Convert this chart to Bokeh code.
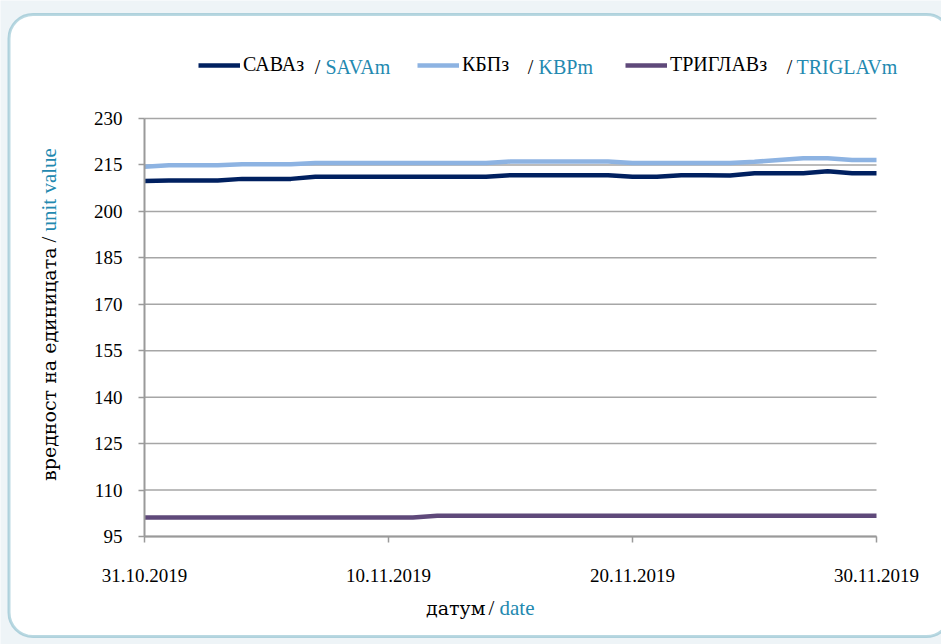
import math
from bokeh.plotting import figure
from bokeh.models import (Range1d, FixedTicker, Label, BoxAnnotation, Legend, LegendItem)
from bokeh.embed import file_html
from bokeh.resources import INLINE

# ---------------- data ----------------
dates = ["31.10.2019", "01.11.2019", "02.11.2019", "03.11.2019", "04.11.2019",
         "05.11.2019", "06.11.2019", "07.11.2019", "08.11.2019", "09.11.2019",
         "10.11.2019", "11.11.2019", "12.11.2019", "13.11.2019", "14.11.2019",
         "15.11.2019", "16.11.2019", "17.11.2019", "18.11.2019", "19.11.2019",
         "20.11.2019", "21.11.2019", "22.11.2019", "23.11.2019", "24.11.2019",
         "25.11.2019", "26.11.2019", "27.11.2019", "28.11.2019", "29.11.2019",
         "30.11.2019"]

sava = [209.8, 210.0, 210.0, 210.0, 210.5, 210.5, 210.5, 211.2, 211.2, 211.2,
        211.2, 211.2, 211.2, 211.2, 211.2, 211.7, 211.7, 211.7, 211.7, 211.7,
        211.2, 211.2, 211.7, 211.7, 211.6, 212.3, 212.3, 212.3, 213.0, 212.3,
        212.3]
kbp = [214.4, 214.9, 214.9, 214.9, 215.2, 215.2, 215.2, 215.6, 215.6, 215.6,
       215.6, 215.6, 215.6, 215.6, 215.6, 216.1, 216.1, 216.1, 216.1, 216.1,
       215.6, 215.6, 215.6, 215.6, 215.6, 216.0, 216.6, 217.2, 217.2, 216.6,
       216.6]
triglav = [101.1, 101.1, 101.1, 101.1, 101.1, 101.1, 101.1, 101.1, 101.1, 101.1,
           101.1, 101.1, 101.7, 101.7, 101.7, 101.7, 101.7, 101.7, 101.7, 101.7,
           101.7, 101.7, 101.7, 101.7, 101.7, 101.7, 101.7, 101.7, 101.7, 101.7,
           101.7]

y_ticks = [95, 110, 125, 140, 155, 170, 185, 200, 215, 230]
x_tick_idx = [0, 10, 20, 30]

series_names_mk = ["САВАз", "КБПз", "ТРИГЛАВз"]
series_names_en = ["SAVAm", "KBPm", "TRIGLAVm"]
series_colors = ["#002060", "#8db3e2", "#5f497a"]

x_title_mk, x_title_en = "датум", "date"
y_title_mk, y_title_en = "вредност на единицата", "unit value"

# ---------------- layout (pixels) ----------------
W, H = 941, 644
PL, PR, PT, PB = 144, 876, 118, 536      # plot area edges
FONT = "Liberation Serif"
FONT_CY = "DejaVu Serif"
TEAL = "#2389b0"
BORDER = "#1a80a0"
GRID = "#a6a6a6"
PAGE_BG = "#eef4f7"

n = len(dates)
y_lo, y_hi = y_ticks[0], y_ticks[-1]


def X(px):
    return (px - PL) / (PR - PL) * (n - 1)


def Y(py):
    return y_lo + (PB - py) / (PB - PT) * (y_hi - y_lo)


x = list(range(n))

p = figure(width=W, height=H, output_backend="svg", toolbar_location=None,
           x_range=Range1d(X(0), X(W)), y_range=Range1d(Y(H), Y(0)),
           min_border=0)
p.background_fill_color = PAGE_BG
p.border_fill_color = PAGE_BG
p.outline_line_color = None
p.grid.visible = False

# white rounded panel behind everything
p.add_layout(BoxAnnotation(left=X(8.5), right=X(950), top=Y(14), bottom=Y(636),
                           fill_color="white", fill_alpha=1, line_color=BORDER,
                           line_width=3, border_radius=24, level="image"))

# axes, placed at the plot-area edges
p.xaxis.fixed_location = y_lo
p.xaxis.bounds = (0, n - 1)
p.xaxis.ticker = FixedTicker(ticks=x_tick_idx)
p.xaxis.major_label_overrides = {i: dates[i] for i in x_tick_idx}
p.yaxis.fixed_location = 0
p.yaxis.bounds = (y_lo, y_hi)
p.yaxis.ticker = FixedTicker(ticks=y_ticks)
for ax in (p.xaxis, p.yaxis):
    ax.axis_line_color = "#9a9a9a"
    ax.axis_line_width = 2
    ax.major_tick_line_color = "#9a9a9a"
    ax.major_tick_line_width = 1.5
    ax.major_tick_in = 0
    ax.major_tick_out = 6
    ax.minor_tick_line_color = None
    ax.major_label_text_font = FONT
    ax.major_label_text_font_size = "19px"
    ax.major_label_text_color = "black"
p.xaxis.major_label_standoff = 26
p.yaxis.major_label_standoff = 16

# horizontal grid lines at the y ticks
p.segment(x0=[0] * len(y_ticks), x1=[n - 1] * len(y_ticks), y0=y_ticks, y1=y_ticks,
          line_color=GRID, line_width=1.5)

# series
renderers = []
for vals, col in zip([sava, kbp, triglav], series_colors):
    r = p.line(x, vals, line_color=col, line_width=4.5, line_join="round")
    renderers.append(r)

# legend (one per series so each sits where the reference has it)
LEG_Y = 66
leg_x = [198, 417, 625]
for name, r, lx in zip(series_names_mk, renderers, leg_x):
    lg = Legend(items=[LegendItem(label=name, renderers=[r])],
                location=(lx, H - LEG_Y - 10),
                orientation="horizontal", padding=0, margin=0, spacing=0,
                glyph_width=42, glyph_height=20, label_standoff=3,
                label_text_font=FONT, label_text_font_size="20px",
                label_text_color="black", label_height=20,
                border_line_color=None, background_fill_alpha=0)
    p.add_layout(lg)

slash_x = [317, 530, 789]
en_x = [325, 538, 796]
for sx, ex, en in zip(slash_x, en_x, series_names_en):
    p.add_layout(Label(x=X(sx), y=Y(LEG_Y), text="/",
                       text_font=FONT, text_font_size="20px", text_color="black",
                       text_align="center", text_baseline="middle"))
    p.add_layout(Label(x=X(ex), y=Y(LEG_Y), text=en,
                       text_font=FONT, text_font_size="20px", text_color=TEAL,
                       text_align="left", text_baseline="middle"))

# x axis title
XT_Y = 607
p.add_layout(Label(x=X(485), y=Y(XT_Y), text=x_title_mk,
                   text_font=FONT_CY, text_font_size="19px", text_color="black",
                   text_align="right", text_baseline="middle"))
p.add_layout(Label(x=X(491), y=Y(XT_Y), text="/",
                   text_font=FONT, text_font_size="21px", text_color="black",
                   text_align="center", text_baseline="middle"))
p.add_layout(Label(x=X(499), y=Y(XT_Y), text=x_title_en,
                   text_font=FONT, text_font_size="21px", text_color=TEAL,
                   text_align="left", text_baseline="middle"))

# y axis title (rotated)
YT_X = 48
p.add_layout(Label(x=X(YT_X), y=Y(247), text=y_title_mk, angle=math.pi / 2,
                   text_font=FONT_CY, text_font_size="19px", text_color="black",
                   text_align="right", text_baseline="middle"))
p.add_layout(Label(x=X(YT_X), y=Y(239), text="/", angle=math.pi / 2,
                   text_font=FONT, text_font_size="21px", text_color="black",
                   text_align="center", text_baseline="middle"))
p.add_layout(Label(x=X(YT_X), y=Y(231), text=y_title_en, angle=math.pi / 2,
                   text_font=FONT, text_font_size="21px", text_color=TEAL,
                   text_align="left", text_baseline="middle"))

open("out.html", "w").write(file_html(p, INLINE))
